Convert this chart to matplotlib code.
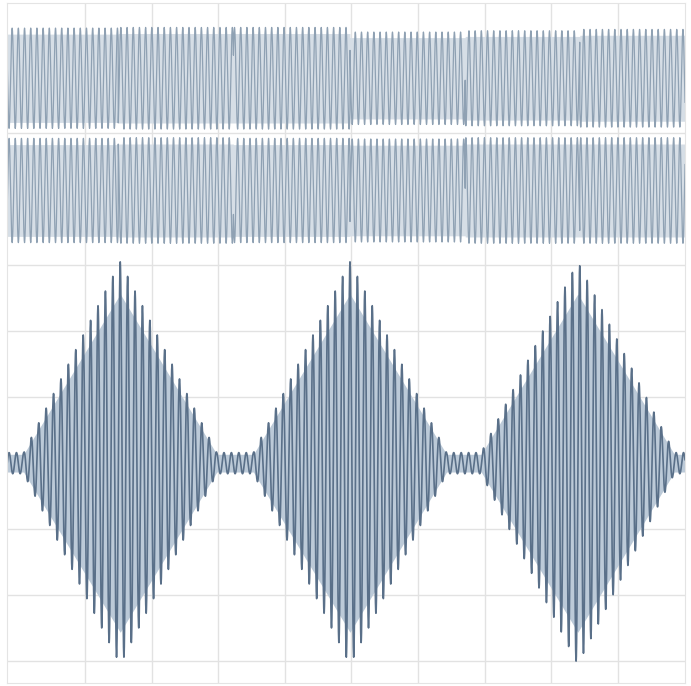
import numpy as np
import matplotlib.pyplot as plt

# screen units: 1 grid division on each axis
x_left, x_right = -1.17, 9.01
y_bottom, y_top = -3.33, 6.97

# bottom trace: amplitude-modulated burst, one lobe per beat
lobe_centers = [0.53, 3.98, 7.40]
lobe_peak = [3.05, 3.05, 3.05]
lobe_half_width = 1.45
gap_level = 0.16
cycles_per_lobe = 31

# top traces: constant carriers with phase jumps
jump_at = [-1.17, 0.50, 2.23, 3.98, 5.71, 7.43, 9.01]
band1_center, band2_center = 5.83, 4.13
band1_amp = [0.76, 0.77, 0.77, 0.70, 0.72, 0.74]
band2_amp = [0.79, 0.80, 0.79, 0.78, 0.80, 0.80]
band1_phase = [0.0, 0.45, 0.10, 0.60, 0.25, 0.70]
band2_phase = [0.5, 0.95, 0.60, 0.10, 0.75, 0.20]
top_period = 0.093

t = np.linspace(x_left, x_right, 16000)

# envelope of the lower trace from its key points
env_x, env_y = [x_left], [gap_level]
for c, p in zip(lobe_centers, lobe_peak):
    env_x += [c - lobe_half_width, c, c + lobe_half_width]
    env_y += [gap_level, p, gap_level]
env_x.append(x_right)
env_y.append(gap_level)
envelope = np.interp(t, env_x, env_y)
beat = lobe_centers[1] - lobe_centers[0]
carrier = np.cos(2 * np.pi * (t - lobe_centers[0]) * cycles_per_lobe / beat)
lower = envelope * carrier

seg = np.clip(np.searchsorted(jump_at, t, side="right") - 1, 0, len(band1_amp) - 1)
a1 = np.array(band1_amp)[seg]
a2 = np.array(band2_amp)[seg]
upper1 = band1_center + a1 * np.sin(2 * np.pi * (t / top_period + np.array(band1_phase)[seg]))
upper2 = band2_center + a2 * np.sin(2 * np.pi * (t / top_period + np.array(band2_phase)[seg]))

fig = plt.figure(figsize=(6.91, 6.86), dpi=100)
ax = fig.add_axes([7 / 691, 3 / 686, 678 / 691, 680 / 686])

# smeared look of the dense traces
ax.fill_between(t, band1_center - a1 * 0.88, band1_center + a1 * 0.88, color="#d6dee6", lw=0)
ax.fill_between(t, band2_center - a2 * 0.88, band2_center + a2 * 0.88, color="#d6dee6", lw=0)
ax.fill_between(t, -envelope * 0.84, envelope * 0.84, color="#bccad8", lw=0)

ax.plot(t, upper1, color="#8fa1b3", lw=0.9)
ax.plot(t, upper2, color="#8fa1b3", lw=0.9)
ax.plot(t, lower, color="#5a7089", lw=1.2)

ax.set_xlim(x_left, x_right)
ax.set_ylim(y_bottom, y_top)
ax.set_xticks(np.arange(0, 9))
ax.set_yticks(np.arange(-3, 7))
ax.tick_params(length=0, labelbottom=False, labelleft=False)
ax.grid(True, color="#e2e2e2", lw=1)
ax.set_axisbelow(True)
for s in ax.spines.values():
    s.set_color("#e4e4e4")

fig.savefig("out.png", dpi=100)
plt.close(fig)
